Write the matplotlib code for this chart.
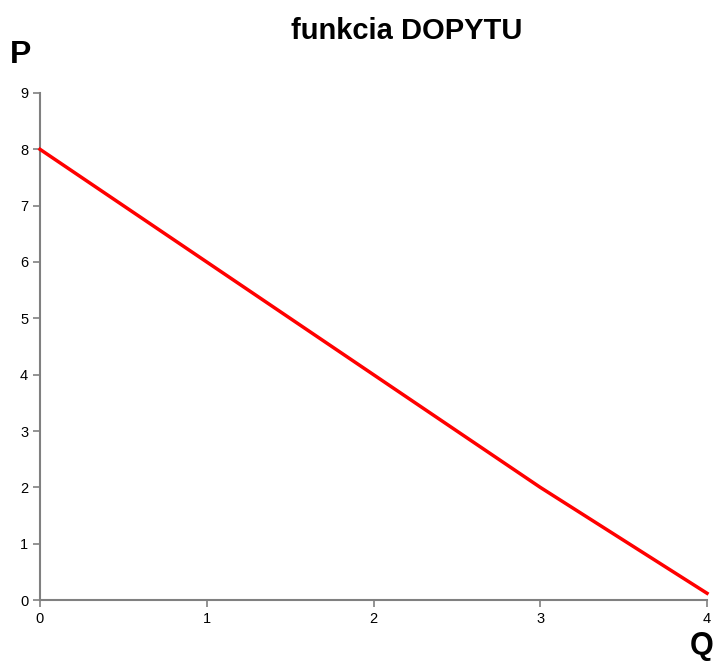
import matplotlib
matplotlib.use("Agg")
import matplotlib.pyplot as plt

q = [0, 1, 2, 3, 4]
p = [8, 6, 4, 2, 0.12]
xticks = [0, 1, 2, 3, 4]
yticks = [0, 1, 2, 3, 4, 5, 6, 7, 8, 9]

plt.rcParams['font.family'] = ['Liberation Sans', 'DejaVu Sans']

fig = plt.figure(figsize=(7.13, 6.67), dpi=100)
ax = fig.add_axes([0.0561, 0.1004, 0.9355, 0.7602])
ax.plot(q, p, color="#ff0000", lw=2.5, clip_on=False, zorder=3)

ax.set_xlim(0, 4)
ax.set_ylim(0, 9)
ax.set_xticks(xticks)
ax.set_yticks(yticks)
for s in ["top", "right"]:
    ax.spines[s].set_visible(False)
for s in ["left", "bottom"]:
    ax.spines[s].set_color("#808080")
    ax.spines[s].set_linewidth(1.5)
ax.tick_params(colors="#808080", labelcolor="black", labelsize=10.5, width=1.2, length=5)

fig.text(0.571, 0.953, "funkcia DOPYTU", ha="center", va="center",
         fontsize=21, fontweight="bold")
fig.text(0.014, 0.918, "P", ha="left", va="center", fontsize=23, fontweight="bold")
fig.text(0.968, 0.032, "Q", ha="left", va="center", fontsize=22, fontweight="bold")

fig.savefig("out.png", dpi=100)
